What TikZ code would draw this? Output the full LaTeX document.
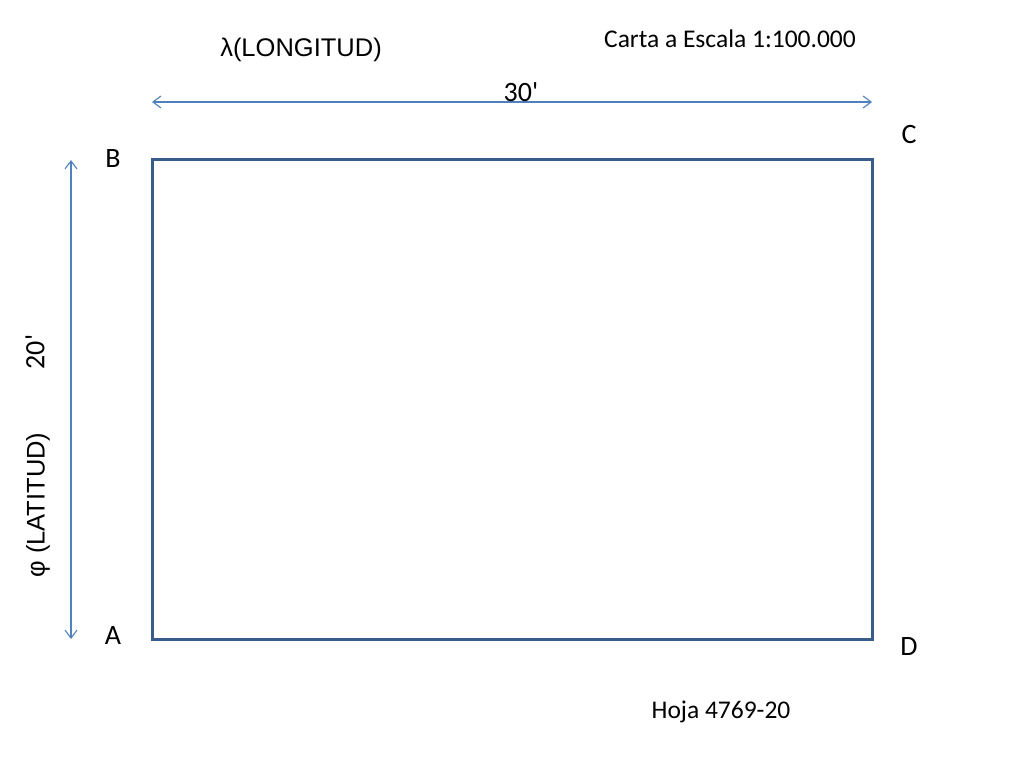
\documentclass[tikz,border=0pt]{standalone}
\usepackage{fontspec}
\setmainfont{Carlito}[Ligatures=TeXOff]
\newfontfamily\arialf{Liberation Sans}
\usetikzlibrary{arrows.meta}
\definecolor{frame}{HTML}{385D8A}
\definecolor{arrowc}{HTML}{4F81BD}
\tikzset{
  dimline/.style={draw=arrowc, line width=1.3pt, {Straight Barb[length=8pt,width=12pt,line width=1.1pt]}-{Straight Barb[length=8pt,width=12pt,line width=1.1pt]}},
  lbl/.style={inner sep=0pt, font=\fontsize{28}{32}\selectfont},
  small/.style={inner sep=0pt, font=\fontsize{25.5}{30}\selectfont},
  arial/.style={inner sep=0pt, font=\arialf\fontsize{25.5}{30}\selectfont}
}
\begin{document}
\begin{tikzpicture}[x=1pt,y=-1pt]
\useasboundingbox (0,0) rectangle (1024,768);
\coordinate (B) at (152,159);
\coordinate (C) at (872,159);
\coordinate (D) at (872,639);
\coordinate (A) at (152,639);
\draw[frame, line width=3pt] (A) -- (B) -- (C) -- (D) -- cycle;
\coordinate (h1) at (152,102);
\coordinate (h2) at (872,102);
\draw[dimline] (h1) -- (h2);
\coordinate (v1) at (71,160);
\coordinate (v2) at (71,639);
\draw[dimline] (v1) -- (v2);
\node[lbl] (lB) at (113,159) {B};
\node[lbl] (lC) at (909,135) {C};
\node[lbl] (lA) at (113,636) {A};
\node[lbl] (lD) at (909,647) {D};
\node[lbl] (t30) at (521,92) {30'};
\node[lbl, rotate=90] (t20) at (35,352) {20'};
\node[arial] (lon) at (301,50) {λ(LONGITUD)};
\node[arial, rotate=90] (lat) at (38,505) {φ (LATITUD)};
\node[small] (carta) at (730,39) {Carta a Escala 1:100.000};
\node[small] (hoja) at (721,712) {Hoja 4769-20};
\end{tikzpicture}
\end{document}
